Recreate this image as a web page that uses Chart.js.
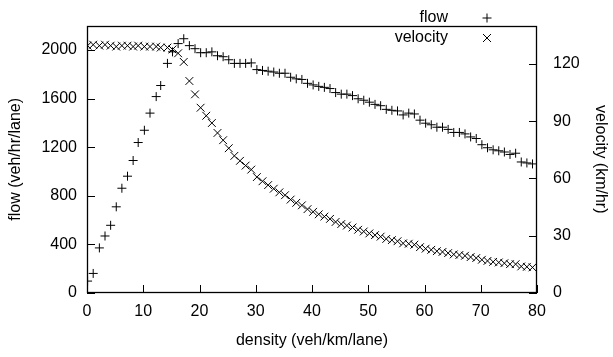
<!DOCTYPE html>
<html><head><meta charset="utf-8">
<script src="https://cdn.jsdelivr.net/npm/chart.js@4/dist/chart.umd.min.js"></script>
<style>html,body{margin:0;padding:0;background:#fff}#wrap{width:613px;height:357px}</style>
</head><body><div id="wrap"><canvas id="c" width="613" height="357"></canvas></div>
<script>
const densities=[0.1,1.1,2.2,3.2,4.2,5.2,6.2,7.2,8.2,9.1,10.2,11.2,12.3,13.1,14.3,15.2,16.2,
17.2,18.2,19.2,20.2,21.2,22.2,23.2,24.2,25.2,26.2,27.2,28.2,29.2,30.2,31.2,32.2,33.2,34.2,35.2,36.2,37.2,38.2,39.2,
40.2,41.2,42.2,43.2,44.2,45.2,46.2,47.2,48.2,49.2,50.2,51.2,52.2,53.2,54.2,55.2,56.2,57.2,58.2,59.2,
60.2,61.2,62.2,63.2,64.2,65.2,66.2,67.2,68.2,69.2,70.2,71.2,72.2,73.2,74.2,75.2,76.2,77.2,78.2,79.2];
const flow=[98,161,371,469,557,709,862,961,1090,1238,1339,1480,1616,1707,1889,1984,2052,
2092,2035,2010,1977,1977,1984,1952,1944,1919,1889,1889,1889,1893,1838,1831,1825,1818,1808,1808,1775,1762,1757,1725,
1712,1700,1692,1682,1649,1636,1636,1624,1598,1586,1570,1552,1541,1511,1503,1498,1465,1480,1473,1422,
1397,1384,1364,1364,1346,1321,1321,1309,1284,1271,1220,1195,1178,1170,1160,1140,1150,1078,1070,1062];
const velocity=[129.5,130,129.5,130,129.5,129,129.5,129.5,129,129.5,129,129,129,128.5,128.5,127.5,125.5,
121,111,104,97,92.8,89,83.8,80,75.8,71.8,69.2,66.7,64.6,60.7,58.5,56.5,54.6,52.7,51.2,48.9,47.2,45.9,43.9,
42.5,41.2,40,38.8,37.2,36.1,35.3,34.3,33.1,32.2,31.2,30.3,29.5,28.3,27.7,27.1,26,25.8,25.3,24,
23.2,22.6,21.9,21.5,20.9,20.2,19.9,19.5,18.8,18.3,17.4,16.8,16.3,16,15.6,15.1,15.1,13.9,13.7,13.4];
const densityTicks=[0,10,20,30,40,50,60,70,80];
const flowTicks=[0,400,800,1200,1600,2000];
const velocityTicks=[0,30,60,90,120];
const legendLabels=['flow','velocity'];

const FONT="'Liberation Sans', Arial, Helvetica, sans-serif";
const FSIZE=16;

const framePlugin={id:'frame',afterDraw(chart){
  const ctx=chart.ctx,a=chart.chartArea;
  const x=chart.scales.x,y=chart.scales.y,y2=chart.scales.y2;
  ctx.save();
  ctx.strokeStyle='#000';ctx.lineWidth=1;
  ctx.beginPath();
  densityTicks.forEach(v=>{const p=Math.round(x.getPixelForValue(v))+0.5;ctx.moveTo(p,a.bottom);ctx.lineTo(p,a.bottom-8);});
  flowTicks.forEach(v=>{const p=Math.round(y.getPixelForValue(v))+0.5;ctx.moveTo(a.left,p);ctx.lineTo(a.left+8,p);});
  velocityTicks.forEach(v=>{const p=Math.round(y2.getPixelForValue(v))+0.5;ctx.moveTo(a.right,p);ctx.lineTo(a.right-8,p);});
  ctx.stroke();
  ctx.lineWidth=1.3;
  ctx.strokeRect(Math.round(a.left)+0.5,Math.round(a.top)+0.5,Math.round(a.right-a.left)-1,Math.round(a.bottom-a.top)-1);
  ctx.restore();
}};

const legendPlugin={id:'keybox',afterDraw(chart){
  const ctx=chart.ctx;
  ctx.save();
  ctx.fillStyle='#000';ctx.strokeStyle='#000';ctx.lineWidth=1;
  ctx.font=FSIZE+'px '+FONT;ctx.textAlign='right';ctx.textBaseline='middle';
  const rows=[18,38];
  legendLabels.forEach((t,i)=>ctx.fillText(t,448,rows[i]));
  const mx=487;
  ctx.beginPath();
  ctx.moveTo(mx-4.5,rows[0]);ctx.lineTo(mx+4.5,rows[0]);
  ctx.moveTo(mx,rows[0]-4.5);ctx.lineTo(mx,rows[0]+4.5);
  ctx.moveTo(mx-4,rows[1]-4);ctx.lineTo(mx+4,rows[1]+4);
  ctx.moveTo(mx-4,rows[1]+4);ctx.lineTo(mx+4,rows[1]-4);
  ctx.stroke();
  ctx.restore();
}};

const tickFont={family:FONT,size:FSIZE};
const plain=v=>String(v);
new Chart(document.getElementById('c'),{
  type:'scatter',
  data:{datasets:[
    {label:legendLabels[0],data:densities.map((d,i)=>({x:d,y:flow[i]})),yAxisID:'y',
     pointStyle:'cross',pointRadius:4.5,pointBorderWidth:1,borderColor:'#000',backgroundColor:'#000',showLine:false},
    {label:legendLabels[1],data:densities.map((d,i)=>({x:d,y:velocity[i]})),yAxisID:'y2',
     pointStyle:'crossRot',pointRadius:5.5,pointBorderWidth:1,borderColor:'#000',backgroundColor:'#000',showLine:false}
  ]},
  options:{
    responsive:false,animation:false,devicePixelRatio:1,
    layout:{padding:{top:2,left:0,right:0,bottom:0}},
    plugins:{legend:{display:false},tooltip:{enabled:false}},
    scales:{
      x:{type:'linear',min:0,max:80,
        afterBuildTicks:s=>{s.ticks=densityTicks.map(v=>({value:v}));},
        afterFit:s=>{s.height=64;},
        grid:{display:false,drawTicks:false},border:{display:false},
        ticks:{color:'#000',font:tickFont,padding:9,maxRotation:0,autoSkip:false,callback:plain},
        title:{display:true,text:'density (veh/km/lane)',color:'#000',font:tickFont,padding:{top:0,bottom:7}}},
      y:{type:'linear',position:'left',min:0,max:2200,
        afterBuildTicks:s=>{s.ticks=flowTicks.map(v=>({value:v}));},
        afterFit:s=>{s.width=87;},
        grid:{display:false,drawTicks:false},border:{display:false},
        ticks:{color:'#000',font:tickFont,padding:10,autoSkip:false,callback:plain},
        title:{display:true,text:'flow (veh/hr/lane)',color:'#000',font:tickFont,padding:{top:6,bottom:0}}},
      y2:{type:'linear',position:'right',min:0,max:140,
        afterBuildTicks:s=>{s.ticks=velocityTicks.map(v=>({value:v}));},
        afterFit:s=>{s.width=76;},
        grid:{display:false,drawTicks:false},border:{display:false},
        ticks:{color:'#000',font:tickFont,padding:16,autoSkip:false,callback:plain},
        title:{display:true,text:'velocity (km/hr)',color:'#000',font:tickFont,padding:{top:3,bottom:0}}}
    }
  },
  plugins:[framePlugin,legendPlugin]
});
</script></body></html>
